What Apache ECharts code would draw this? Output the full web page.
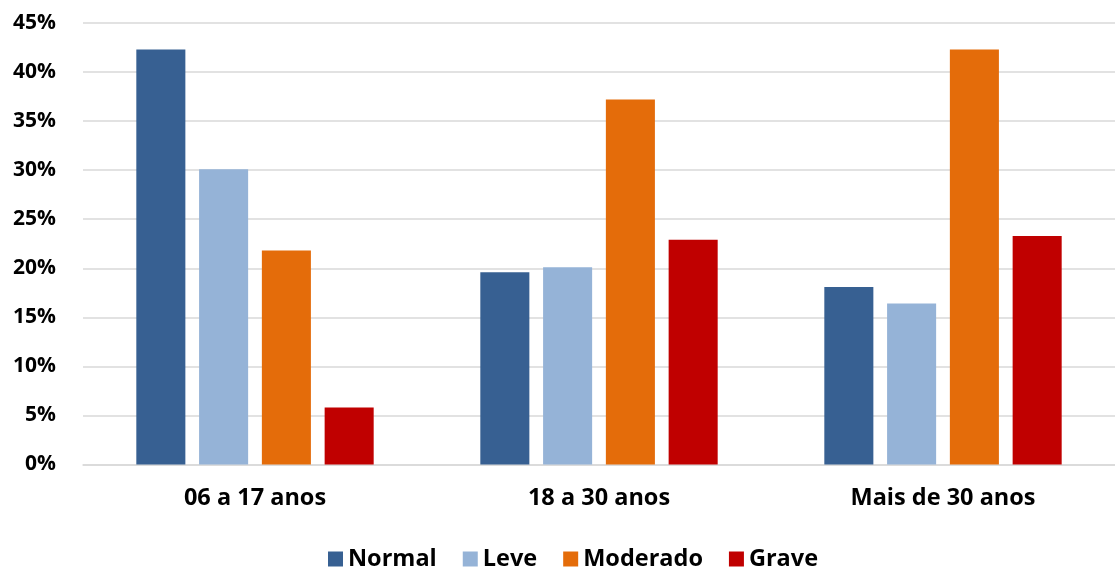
<!DOCTYPE html>
<html><head><meta charset="utf-8">
<script src="https://cdn.jsdelivr.net/npm/echarts@6/dist/echarts.min.js"></script>
<style>html,body{margin:0;padding:0;background:#fff}#c{width:1115px;height:572px}</style>
</head><body><div id="c"></div>
<script>
const categories = ['06 a 17 anos', '18 a 30 anos', 'Mais de 30 anos'];
const seriesNames = ['Normal', 'Leve', 'Moderado', 'Grave'];
const normal = [42.3, 19.6, 18.1];
const leve = [30.1, 20.1, 16.4];
const moderado = [21.8, 37.2, 42.3];
const grave = [5.8, 22.9, 23.3];
const colors = ['#376092', '#95B3D7', '#E46C0A', '#C00000'];
const values = [normal, leve, moderado, grave];
const font = '"Open Sans", sans-serif';
const chart = echarts.init(document.getElementById('c'));
chart.setOption({
  animation: false,
  textStyle: {fontFamily: font},
  grid: {left: 83, right: 0, top: 23, bottom: 107.5},
  legend: {
    bottom: -4, left: 323, itemWidth: 15, itemHeight: 15, itemGap: 26,
    icon: 'rect',
    textStyle: {fontFamily: font, fontWeight: 'bold', fontSize: 23.5, color: '#000'},
    data: seriesNames
  },
  xAxis: {
    type: 'category', data: categories,
    axisLine: {show: true, lineStyle: {color: '#d9d9d9', width: 1.5}},
    axisTick: {show: false},
    axisLabel: {fontFamily: font, fontWeight: 'bold', fontSize: 23.5, color: '#000', margin: 22}
  },
  yAxis: {
    type: 'value', min: 0, max: 45, interval: 5,
    axisLabel: {formatter: '{value}%', fontFamily: font, fontWeight: 'bold', fontSize: 21, color: '#000', margin: 27},
    splitLine: {lineStyle: {color: '#d9d9d9', width: 1.5}},
    axisLine: {show: false}, axisTick: {show: false}
  },
  series: seriesNames.map((n, i) => ({
    name: n, type: 'bar', data: values[i],
    barGap: '28%', barCategoryGap: '31%',
    itemStyle: {color: colors[i]}
  }))
});
</script></body></html>
